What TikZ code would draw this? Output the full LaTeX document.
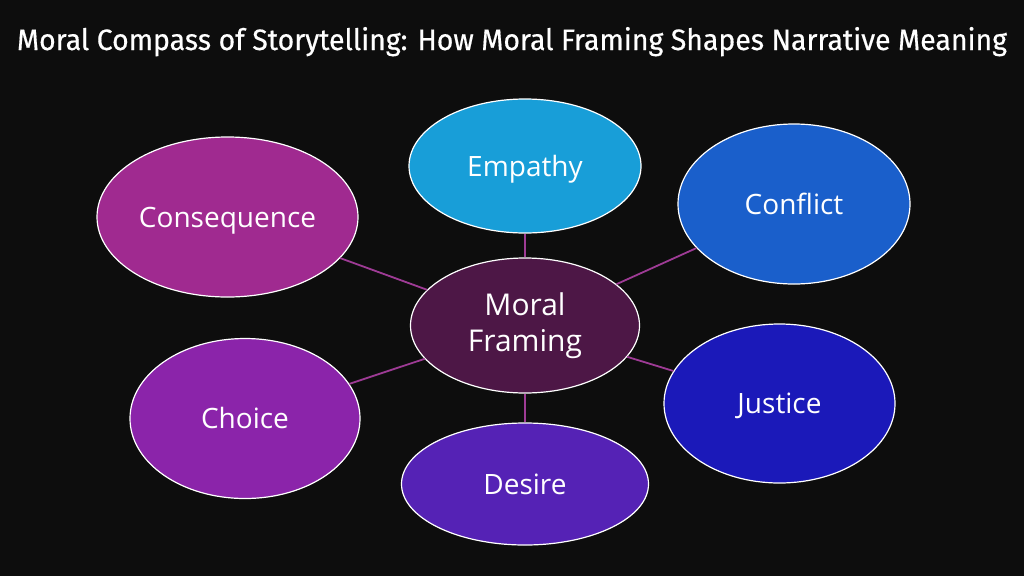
\documentclass[tikz,border=0pt]{standalone}
\usepackage{fontspec}
\usepackage{graphicx}
\usetikzlibrary{shapes.geometric}
\setmainfont{Open Sans}
\newfontfamily\titlefont[FakeBold=0.5]{Fira Sans}
\definecolor{bgc}{HTML}{0D0D0D}
\definecolor{cEmpathy}{HTML}{189ED8}
\definecolor{cConflict}{HTML}{1A5FCB}
\definecolor{cConseq}{HTML}{A02A90}
\definecolor{cMoral}{HTML}{4D1746}
\definecolor{cChoice}{HTML}{8B24AA}
\definecolor{cJustice}{HTML}{1B19B9}
\definecolor{cDesire}{HTML}{5522B5}
\definecolor{cLink}{HTML}{9E3B95}
\tikzset{
  bubble/.style={ellipse, draw=white, line width=1.2pt, inner sep=0pt,
    text=white, font=\fontsize{28}{32}\selectfont, text height=20pt, text depth=0pt},
  link/.style={draw=cLink, line width=1.8pt},
}
\begin{document}
\begin{tikzpicture}[x=1pt,y=-1pt]
\fill[bgc] (0,0) rectangle (1024,576);
\useasboundingbox (0,0) rectangle (1024,576);
\node[anchor=base, text=white, inner sep=0pt] (title) at (512,50)
  {\resizebox{990pt}{\height}{\titlefont\fontsize{29.5}{34}\selectfont Moral Compass of Storytelling: How Moral Framing Shapes Narrative Meaning}};
% nodes
\node[bubble, fill=cEmpathy, minimum width=232pt, minimum height=134pt] (emp) at (525,166) {Empathy};
\node[bubble, fill=cConflict, minimum width=232pt, minimum height=160pt] (con) at (794,204) {Conflict};
\node[bubble, fill=cConseq, minimum width=261pt, minimum height=160pt] (csq) at (227.5,217) {Consequence};
\node[bubble, fill=cChoice, minimum width=230pt, minimum height=160pt] (cho) at (245,418.5) {Choice};
\node[bubble, fill=cJustice, minimum width=231pt, minimum height=159pt] (jus) at (779.5,403.5) {Justice};
\node[bubble, fill=cDesire, minimum width=247pt, minimum height=122pt] (des) at (525,484) {Desire};
\node[ellipse, draw=white, line width=1.2pt, inner sep=0pt, text=white, fill=cMoral,
  minimum width=229pt, minimum height=135pt, align=center,
  font=\fontsize{30}{36}\selectfont] (mor) at (525,325.5) {Moral\\Framing};
% connectors
\draw[link] (mor) -- (emp);
\draw[link] (mor) -- (con);
\draw[link] (mor) -- (csq);
\draw[link] (mor) -- (cho);
\draw[link] (mor) -- (jus);
\draw[link] (mor) -- (des);
\end{tikzpicture}
\end{document}
